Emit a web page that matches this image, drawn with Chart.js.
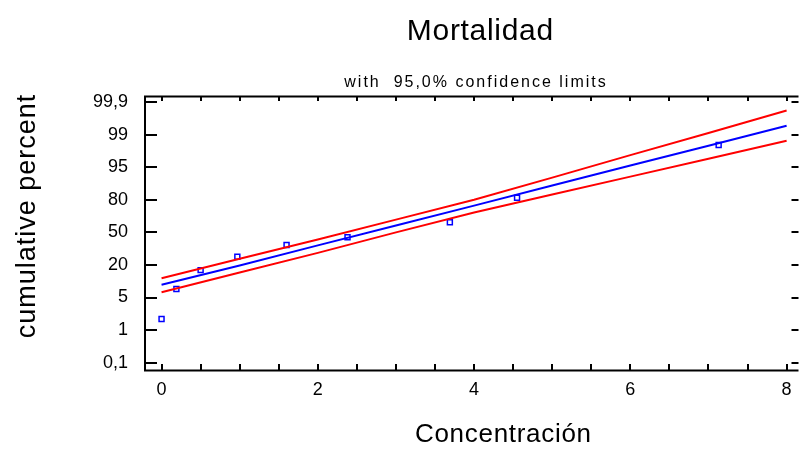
<!DOCTYPE html>
<html>
<head>
<meta charset="utf-8">
<script src="https://cdn.jsdelivr.net/npm/chart.js@4/dist/chart.umd.min.js"></script>
<style>
    html, body { margin: 0; padding: 0; background: #fff; overflow: hidden; }
    #wrap { width: 804px; height: 452px; }
</style>
</head>
<body>
<div id="wrap"><canvas id="probitChart" width="804" height="452"></canvas></div>
<script>
/*
|--------------------------------------------------------------------------
| Data (y values are positions on the probability scale: tick k = label k)
|--------------------------------------------------------------------------
*/

const yTickLabels = ["0,1", "1", "5", "20", "50", "80", "95", "99", "99,9"];
const xTicks = [0, 2, 4, 6, 8];

const obsX = [0, 0.19, 0.5, 0.97, 1.6, 2.38, 3.69, 4.55, 7.13];
const obsY = [1.34, 2.26, 2.84, 3.25, 3.61, 3.85, 4.31, 5.06, 6.68];

const lineX = [0, 1, 2, 3, 4, 5, 6, 7, 8];
const fitY = [2.39, 2.98, 3.6, 4.21, 4.82, 5.44, 6.05, 6.66, 7.27];
const upperY = [2.59, 3.19, 3.78, 4.39, 5.0, 5.68, 6.37, 7.05, 7.74];
const lowerY = [2.16, 2.77, 3.37, 4.0, 4.61, 5.16, 5.71, 6.26, 6.81];

const FONT = "Arial, 'Liberation Sans', sans-serif";
const toXY = (xs, ys) => xs.map((x, i) => ({ x: x, y: ys[i] }));

/*
|--------------------------------------------------------------------------
| Frame, tick marks and titles
|--------------------------------------------------------------------------
*/

function drawText(ctx, text, x, y, size, spacing, rotate) {
    ctx.save();
    ctx.font = size + "px " + FONT;
    ctx.letterSpacing = spacing + "px";
    ctx.fillStyle = "#000";
    ctx.textAlign = "center";
    ctx.textBaseline = "alphabetic";
    ctx.translate(x, y);
    if (rotate) ctx.rotate(-Math.PI / 2);
    ctx.fillText(text, spacing / 2, 0);
    ctx.restore();
}

const framePlugin = {
    id: "frame",

    afterDraw(chart) {
        const { ctx, chartArea: a, scales } = chart;
        const xs = scales.x;
        const ys = scales.y;

        ctx.save();
        ctx.strokeStyle = "#000";
        ctx.lineWidth = 2;
        ctx.beginPath();
        ctx.moveTo(a.left + 1, a.top);
        ctx.lineTo(a.left + 1, a.bottom);
        ctx.moveTo(a.left, a.top + 0.5);
        ctx.lineTo(a.right, a.top + 0.5);
        ctx.moveTo(a.left, a.bottom - 0.5);
        ctx.lineTo(a.right, a.bottom - 0.5);

        for (let v = 0; v <= 8; v += 0.5) {
            const px = Math.round(xs.getPixelForValue(v));
            ctx.moveTo(px, a.bottom);
            ctx.lineTo(px, a.bottom - 7);
            ctx.moveTo(px, a.top);
            ctx.lineTo(px, a.top + 5);
        }

        yTickLabels.forEach((_, i) => {
            const py = Math.round(ys.getPixelForValue(i));
            ctx.moveTo(a.left, py);
            ctx.lineTo(a.left + 13, py);
            ctx.moveTo(a.right - 7, py);
            ctx.lineTo(a.right, py);
        });
        ctx.stroke();
        ctx.restore();

        drawText(ctx, "Mortalidad", 480, 40, 30, 0.7);
        drawText(ctx, "with  95,0% confidence limits", 475, 87, 16, 2);
        drawText(ctx, "Concentración", 503, 442, 26, 0.7);
        drawText(ctx, "cumulative percent", 35, 216.5, 27, 1, true);
    },
};

/*
|--------------------------------------------------------------------------
| Chart
|--------------------------------------------------------------------------
*/

new Chart(document.getElementById("probitChart"), {
    type: "scatter",

    data: {
        datasets: [
            {
                label: "upper",
                type: "line",
                data: toXY(lineX, upperY),
                borderColor: "#ff0000",
                borderWidth: 2,
                pointRadius: 0,
            },
            {
                label: "lower",
                type: "line",
                data: toXY(lineX, lowerY),
                borderColor: "#ff0000",
                borderWidth: 2,
                pointRadius: 0,
            },
            {
                label: "fit",
                type: "line",
                data: toXY(lineX, fitY),
                borderColor: "#0000ff",
                borderWidth: 2,
                pointRadius: 0,
            },
            {
                label: "observed",
                data: toXY(obsX, obsY),
                pointStyle: "rect",
                pointRadius: 3.5,
                borderColor: "#0000ff",
                backgroundColor: "#ffffff",
                borderWidth: 1.5,
            },
        ],
    },

    options: {
        responsive: false,
        animation: false,
        devicePixelRatio: 1,

        layout: {
            padding: { top: 96, right: 0, bottom: 0, left: 0 },
        },

        plugins: {
            legend: { display: false },
            tooltip: { enabled: false },
        },

        scales: {
            x: {
                type: "linear",
                min: -0.2246,
                max: 8.152,
                afterFit: (s) => { s.height = 81; },
                afterBuildTicks: (s) => { s.ticks = xTicks.map((v) => ({ value: v })); },
                grid: { display: false, drawTicks: false },
                border: { display: false },
                ticks: {
                    color: "#000",
                    padding: 8,
                    maxRotation: 0,
                    font: { family: FONT, size: 18 },
                },
            },

            y: {
                type: "linear",
                min: -0.255,
                max: 8.184,
                afterFit: (s) => { s.width = 144; },
                afterBuildTicks: (s) => { s.ticks = yTickLabels.map((_, i) => ({ value: i })); },
                grid: { display: false, drawTicks: false },
                border: { display: false },
                ticks: {
                    color: "#000",
                    padding: 16,
                    font: { family: FONT, size: 18 },
                    callback: (v) => yTickLabels[v],
                },
            },
        },
    },

    plugins: [framePlugin],
});
</script>
</body>
</html>
